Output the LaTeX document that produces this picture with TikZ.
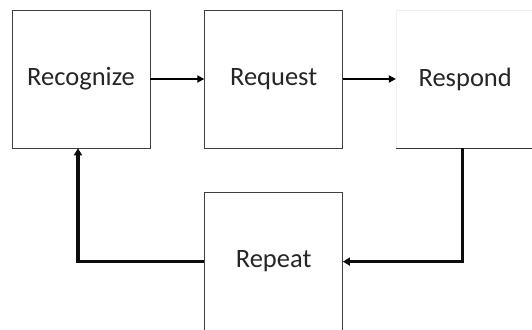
\documentclass[tikz,border=0pt]{standalone}
\usepackage{fontspec}
\setmainfont{Carlito}
\usetikzlibrary{positioning,arrows.meta,shadows}

\tikzset{
  stage/.style={draw=black!75, line width=0.6pt, fill=white, minimum width=138pt, minimum height=138pt,
    inner sep=0pt, font=\fontsize{26.5}{30}\selectfont, text=black!85,
    drop shadow={opacity=0.18, shadow xshift=0.8pt, shadow yshift=-1.2pt}},
  step arrow/.style={line width=2pt, -{Triangle[length=7pt,width=7pt]}},
  loop arrow/.style={line width=3.3pt, -{Triangle[length=7pt,width=8pt]}, black!95}
}

\begin{document}
\begin{tikzpicture}
\useasboundingbox (0,0) rectangle (532pt,-329pt);
\begin{scope}
\clip (0,0) rectangle (532pt,-329pt);
% the four stages
\node[stage] (recog) at (81pt,-79pt) {Recognize};
\node[stage, right=54pt of recog] (req) {Request};
\node[stage, right=53pt of req, draw=black!6] (resp) {Respond};
\draw[black!80, line width=0.8pt] (resp.south west) -- (resp.south east);
\node[stage, below=44pt of req] (rep) {Repeat};
% connectors
\draw[step arrow] (recog) -- (req);
\draw[step arrow] (req) -- (resp);
\draw[loop arrow] ([xshift=-3pt]resp.south) |- (rep.east);
\draw[loop arrow] (rep.west) -| ([xshift=-3pt]recog.south);
\end{scope}
\end{tikzpicture}
\end{document}
